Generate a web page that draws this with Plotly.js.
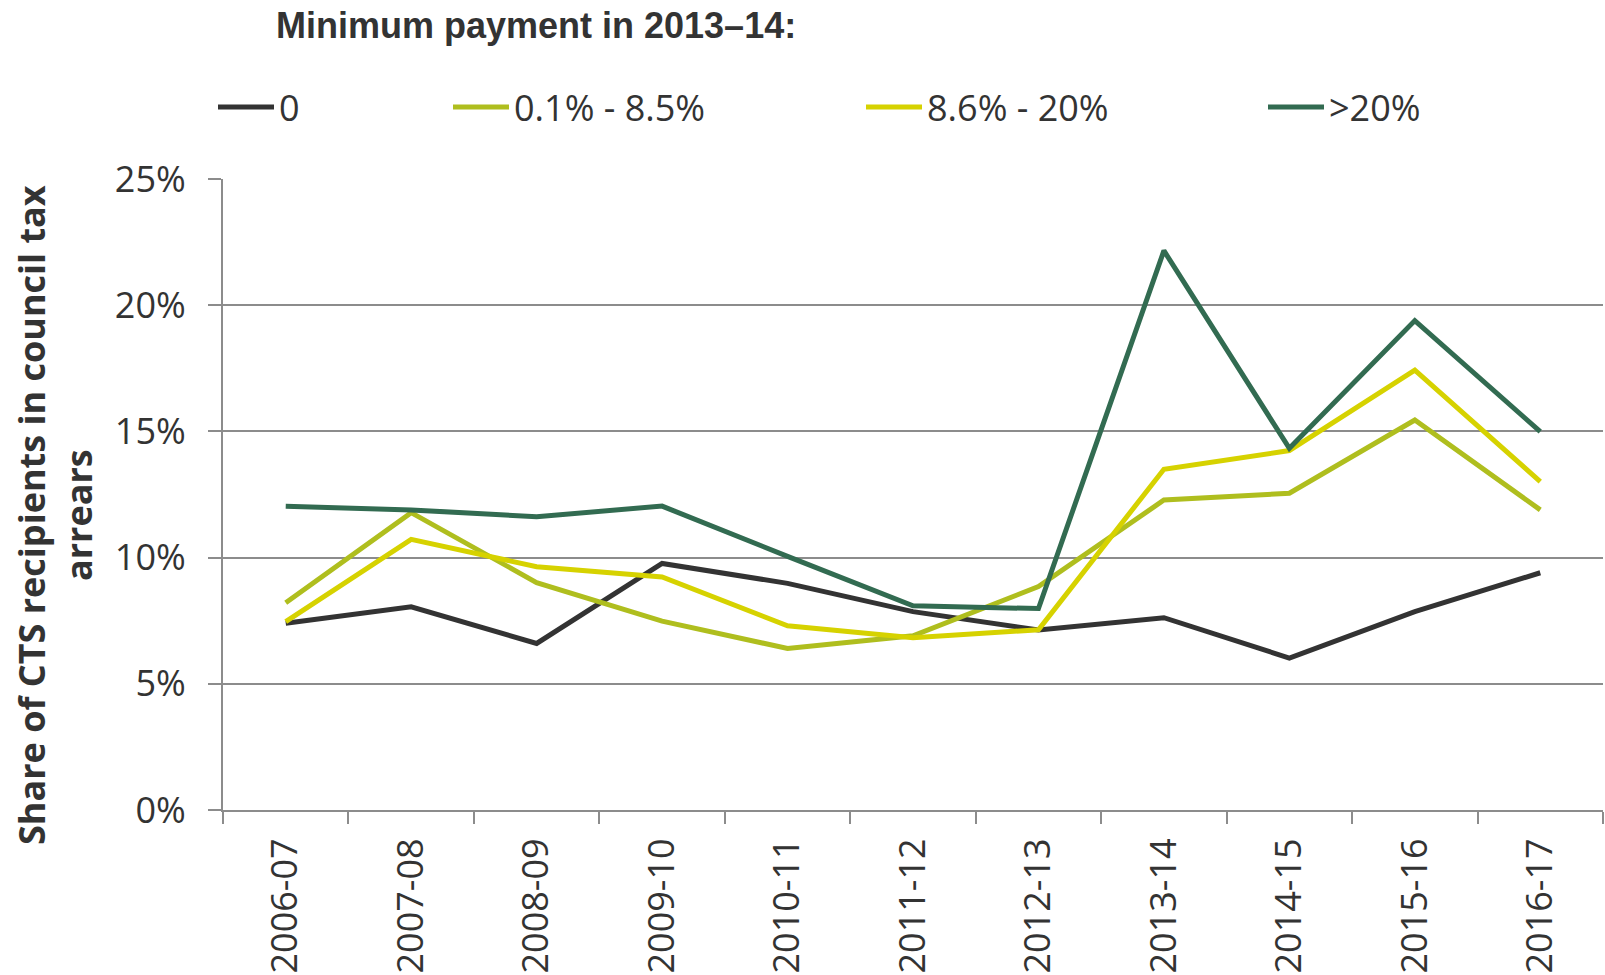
<!DOCTYPE html>
<html>
<head>
<meta charset="utf-8">
<script src="https://cdn.plot.ly/plotly-3.0.1.min.js"></script>
<style>
  html, body { margin: 0; padding: 0; background: #ffffff; }
  #chart { width: 1605px; height: 975px; }
</style>
</head>
<body>
<div id="chart"></div>
<script>
// Categories (financial years)
const years = ['2006-07','2007-08','2008-09','2009-10','2010-11','2011-12','2012-13','2013-14','2014-15','2015-16','2016-17'];

// Series names (minimum payment in 2013-14)
const seriesNames = ['0', '0.1% - 8.5%', '8.6% - 20%', '>20%'];

// Share of CTS recipients in council tax arrears (%)
const minPay0      = [7.40, 8.05, 6.60, 9.77, 8.98, 7.86, 7.13, 7.62, 6.02, 7.86, 9.40];
const minPayLow    = [8.21, 11.78, 9.01, 7.48, 6.40, 6.90, 8.85, 12.28, 12.55, 15.45, 11.89];
const minPayMid    = [7.46, 10.72, 9.64, 9.23, 7.30, 6.82, 7.14, 13.50, 14.24, 17.43, 13.01];
const minPayHigh   = [12.03, 11.89, 11.62, 12.04, 10.05, 8.09, 7.98, 22.16, 14.33, 19.39, 14.99];

const seriesValues = [minPay0, minPayLow, minPayMid, minPayHigh];
const seriesColors = ['#333333', '#AFBE1E', '#D6D200', '#326B51'];
const legendIds = ['legend', 'legend2', 'legend3', 'legend4'];

const textColor = '#333333';
const gridColor = '#8C8C8C';

const traces = seriesValues.map((vals, i) => ({
  type: 'scatter',
  mode: 'lines',
  x: years,
  y: vals,
  name: seriesNames[i],
  legend: legendIds[i],
  line: { color: seriesColors[i], width: 5 },
  hoverinfo: 'x+y+name'
}));

// Plot area: x 223..1603, y 179..810
const plotL = 223, plotR = 1603, plotT = 179, plotB = 810;
const pw = plotR - plotL, ph = plotB - plotT;
const px = v => (v - plotL) / pw;
const py = v => (plotB - v) / ph;

const legendFont = { family: 'Open Sans, sans-serif', size: 36, color: textColor };
function legendAt(leftPx) {
  return {
    x: px(leftPx), xanchor: 'left',
    y: py(107), yanchor: 'middle',
    orientation: 'h',
    font: legendFont,
    bgcolor: 'rgba(0,0,0,0)',
    borderwidth: 0,
    itemwidth: 56,
    tracegroupgap: 0
  };
}

const layout = {
  width: 1605,
  height: 975,
  paper_bgcolor: '#ffffff',
  plot_bgcolor: '#ffffff',
  margin: { l: plotL, r: 1605 - plotR, t: plotT, b: 975 - plotB, pad: 0 },
  title: {
    text: '<b>Minimum payment in 2013\u201314:</b>',
    font: { family: 'Liberation Sans, Arial, sans-serif', size: 36, color: textColor },
    xref: 'container', x: 276 / 1605, xanchor: 'left',
    yref: 'container', y: 1 - 25 / 975, yanchor: 'middle'
  },
  showlegend: true,
  legend: legendAt(213),
  legend2: legendAt(448),
  legend3: legendAt(861),
  legend4: legendAt(1263),
  xaxis: {
    type: 'category',
    range: [-0.5, years.length - 0.5],
    showgrid: false,
    zeroline: false,
    showline: true,
    linecolor: gridColor,
    linewidth: 2,
    ticks: 'outside',
    tickson: 'boundaries',
    ticklen: 12,
    tickwidth: 2,
    tickcolor: gridColor,
    tickangle: -90,
    ticklabelstandoff: 12,
    tickfont: { family: 'Open Sans, sans-serif', size: 36, color: textColor },
    fixedrange: true
  },
  yaxis: {
    range: [0, 25],
    dtick: 5,
    tick0: 0,
    ticksuffix: '%',
    showgrid: true,
    gridcolor: gridColor,
    gridwidth: 2,
    zeroline: false,
    showline: true,
    linecolor: gridColor,
    linewidth: 2,
    ticks: 'outside',
    ticklen: 13,
    tickwidth: 2,
    tickcolor: gridColor,
    ticklabelstandoff: 15,
    tickfont: { family: 'Open Sans, sans-serif', size: 36, color: textColor },
    fixedrange: true
  },
  annotations: [{
    text: '<b>Share of CTS recipients in council tax<br>arrears</b>',
    textangle: -90,
    xref: 'paper', yref: 'paper',
    x: px(55), y: py(515),
    xanchor: 'center', yanchor: 'middle',
    showarrow: false,
    font: { family: 'Open Sans, sans-serif', size: 36, color: textColor }
  }]
};

Plotly.newPlot('chart', traces, layout, { displayModeBar: false, staticPlot: false });
</script>
</body>
</html>
